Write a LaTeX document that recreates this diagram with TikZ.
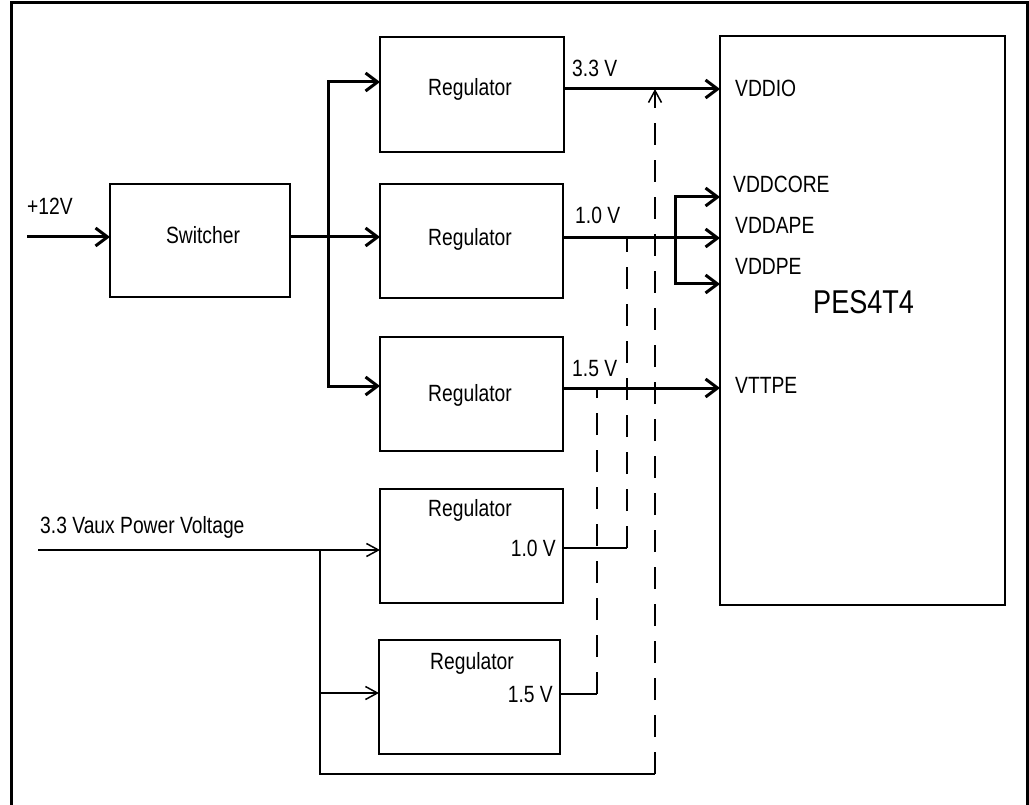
\documentclass[tikz,border=0pt]{standalone}
\usepackage{fontspec}
\setmainfont{Liberation Sans}[FakeStretch=0.82]
\usetikzlibrary{arrows.meta}
\begin{document}
\begin{tikzpicture}[x=1pt,y=-1pt,
  box/.style={draw, line width=2.5pt, inner sep=0pt, outer sep=0pt},
  thk/.style={line width=3pt},
  thn/.style={line width=2pt},
  dsh/.style={line width=2.5pt, dash pattern=on 22pt off 15pt},
  tipk/.tip={Straight Barb[length=12pt,width=18pt,line width=3pt]},
  tipn/.tip={Straight Barb[length=12pt,width=13pt,line width=1.5pt]},
  txt/.style={inner sep=0pt, font=\fontsize{23.5}{27}\selectfont},
  big/.style={inner sep=0pt, font=\fontsize{33}{38}\selectfont}]
\useasboundingbox (0,0) rectangle (1029,805);
% outer frame (open at bottom)
\draw[line width=3pt] (11,805) -- (11,3) -- (1027,3) -- (1027,805);
% boxes
\node[box, minimum width=180pt, minimum height=113pt] (sw) at (200,240.5) {};
\node[box, minimum width=184pt, minimum height=115pt] (r1) at (472,94.5) {};
\node[box, minimum width=183pt, minimum height=114pt] (r2) at (471.5,241) {};
\node[box, minimum width=183pt, minimum height=114pt] (r3) at (471.5,394) {};
\node[box, minimum width=183pt, minimum height=114pt] (r4) at (471.5,546) {};
\node[box, minimum width=181pt, minimum height=114pt] (r5) at (469.5,697) {};
\node[box, minimum width=285pt, minimum height=569pt] (pes) at (862.5,320.5) {};
% texts
\node[txt, anchor=base west] (t12) at (27,215) {+12V};
\node[txt, anchor=base] (tsw) at (203,244) {Switcher};
\node[txt, anchor=base] (tr1) at (470,96) {Regulator};
\node[txt, anchor=base] (tr2) at (470,246) {Regulator};
\node[txt, anchor=base] (tr3) at (470,401) {Regulator};
\node[txt, anchor=base] (tr4) at (470,516) {Regulator};
\node[txt, anchor=base east] (tv4) at (556,556) {1.0 V};
\node[txt, anchor=base] (tr5) at (472,669) {Regulator};
\node[txt, anchor=base east] (tv5) at (553,702) {1.5 V};
\node[txt, anchor=base west] (l33) at (572,77) {3.3 V};
\node[txt, anchor=base west] (l10) at (575,224) {1.0 V};
\node[txt, anchor=base west] (l15) at (572,376) {1.5 V};
\node[txt, anchor=base west] (vaux) at (40,533) {3.3 Vaux Power Voltage};
\node[txt, anchor=base west] (p1) at (735,97) {VDDIO};
\node[txt, anchor=base west] (p2) at (733,193) {VDDCORE};
\node[txt, anchor=base west] (p3) at (735,234) {VDDAPE};
\node[txt, anchor=base west] (p4) at (735,275) {VDDPE};
\node[txt, anchor=base west] (p5) at (735,393) {VTTPE};
\node[big, anchor=base west] (pn) at (813,314) {PES4T4};
% coordinates
\coordinate (in12) at (27,237);
\coordinate (busmid) at (328,237);
\coordinate (bustop) at (328,82);
\coordinate (busbot) at (328,386);
\coordinate (o1) at (564,89);
\coordinate (o2) at (564,238);
\coordinate (o3) at (564,388);
\coordinate (bt) at (675,197);
\coordinate (bb) at (675,284);
\coordinate (vin) at (38,550);
\coordinate (vj) at (320,550);
\coordinate (vj2) at (320,693);
\coordinate (vb) at (320,774);
\coordinate (vbr) at (655,774);
\coordinate (o4) at (563,548);
\coordinate (d4) at (627,548);
\coordinate (o5) at (560,694);
\coordinate (d5) at (597,694);
% 12V side
\draw[thk,-tipk] (in12) -- (sw.west |- in12);
\draw[thk] (sw.east |- busmid) -- (busmid);
\draw[thk,-tipk] (busmid) -- (r2.west |- busmid);
\draw[thk,tipk-tipk] (r1.west |- bustop) -- (bustop) -- (busbot) -- (r3.west |- busbot);
% regulator outputs
\draw[thk,-tipk] (r1.east |- o1) -- (pes.west |- o1);
\draw[thk,-tipk] (r2.east |- o2) -- (pes.west |- o2);
\draw[thk,tipk-tipk] (pes.west |- bt) -- (bt) -- (bb) -- (pes.west |- bb);
\draw[thk,-tipk] (r3.east |- o3) -- (pes.west |- o3);
% Vaux side
\draw[thn,-tipn] (vin) -- (r4.west |- vin);
\draw[thn] (vj) -- (vb) -- (vbr);
\draw[thn,-tipn] (vj2) -- (r5.west |- vj2);
\draw[dsh,-tipn] (vbr) -- (vbr |- o1);
\draw[thn] (r4.east |- o4) -- (d4);
\draw[dsh] (d4) -- (d4 |- o2);
\draw[thn] (r5.east |- o5) -- (d5);
\draw[dsh] (d5) -- (d5 |- o3);
\end{tikzpicture}
\end{document}
